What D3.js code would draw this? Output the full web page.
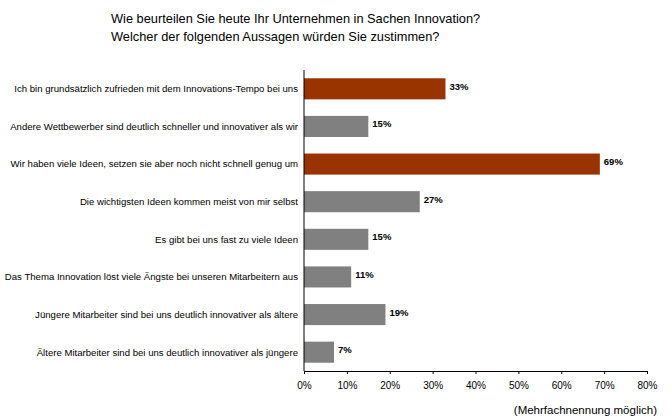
<!DOCTYPE html>
<html>
<head>
<meta charset="utf-8">
<script src="https://cdn.jsdelivr.net/npm/d3@7"></script>
<style>
  body { margin: 0; background: #fff; }
  text { font-family: "Liberation Sans", Arial, sans-serif; fill: #000; }
</style>
</head>
<body>
<div id="chart"></div>
<script>
// data
var categories = [
  "Ich bin grundsätzlich zufrieden mit dem Innovations-Tempo bei uns",
  "Andere Wettbewerber sind deutlich schneller und innovativer als wir",
  "Wir haben viele Ideen, setzen sie aber noch nicht schnell genug um",
  "Die wichtigsten Ideen kommen meist von mir selbst",
  "Es gibt bei uns fast zu viele Ideen",
  "Das Thema Innovation löst viele Ängste bei unseren Mitarbeitern aus",
  "Jüngere Mitarbeiter sind bei uns deutlich innovativer als ältere",
  "Ältere Mitarbeiter sind bei uns deutlich innovativer als jüngere"
];
var values = [33, 15, 69, 27, 15, 11, 19, 7];
var highlighted = [true, false, true, false, false, false, false, false];
var xTicks = [0, 10, 20, 30, 40, 50, 60, 70, 80];
var titleLines = [
  "Wie beurteilen Sie heute Ihr Unternehmen in Sachen Innovation?",
  "Welcher der folgenden Aussagen würden Sie zustimmen?"
];
var footnote = "(Mehrfachnennung möglich)";

var W = 672, H = 420;
var svg = d3.select("#chart").append("svg")
  .attr("width", W).attr("height", H);

var x = d3.scaleLinear().domain([0, 80]).range([304, 647]);
var y = d3.scaleBand().domain(categories).range([70, 371]).paddingInner(0.44).paddingOuter(0.22);

// title
svg.append("g").selectAll("text")
  .data(titleLines)
  .enter().append("text")
  .attr("x", 111)
  .attr("y", function(d, i) { return 23 + i * 18; })
  .style("font-size", "12.8px")
  .text(function(d) { return d; });

// bars
svg.append("g").selectAll("rect")
  .data(values)
  .enter().append("rect")
  .attr("x", x(0))
  .attr("y", function(d, i) { return y(categories[i]); })
  .attr("width", function(d) { return x(d) - x(0); })
  .attr("height", y.bandwidth())
  .attr("fill", function(d, i) { return highlighted[i] ? "#993300" : "#808080"; });

// value labels
svg.append("g").selectAll("text")
  .data(values)
  .enter().append("text")
  .attr("x", function(d) { return x(d) + 4; })
  .attr("y", function(d, i) { return y(categories[i]) + y.bandwidth() / 2; })
  .attr("dy", "0.1em")
  .style("font-size", "9.5px")
  .style("font-weight", "bold")
  .text(function(d) { return d + "%"; });

// category labels
svg.append("g").selectAll("text")
  .data(categories)
  .enter().append("text")
  .attr("x", 298)
  .attr("y", function(d) { return y(d) + y.bandwidth() / 2; })
  .attr("dy", "0.35em")
  .attr("text-anchor", "end")
  .style("font-size", "9.6px")
  .text(function(d) { return d; });

// x axis
var xAxis = svg.append("g")
  .attr("transform", "translate(0,371)")
  .call(d3.axisBottom(x).tickValues(xTicks).tickSize(3).tickPadding(8)
    .tickFormat(function(d) { return d + "%"; }));
xAxis.select(".domain").attr("stroke", "#000");
xAxis.selectAll("text").style("font-size", "10px").attr("font-family", null);

// y axis line
svg.append("line")
  .attr("x1", x(0)).attr("x2", x(0))
  .attr("y1", 70).attr("y2", 371)
  .attr("stroke", "#000");

svg.append("text")
  .attr("x", 657).attr("y", 414)
  .attr("text-anchor", "end")
  .style("font-size", "11.5px")
  .text(footnote);
</script>
</body>
</html>
